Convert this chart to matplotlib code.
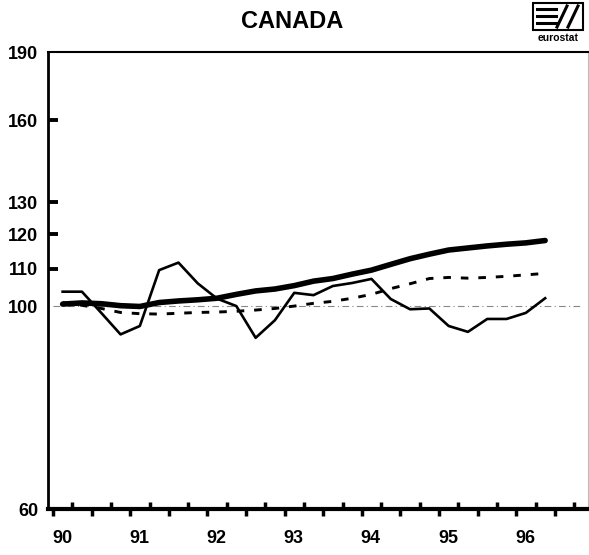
import numpy as np
import matplotlib.pyplot as plt
from matplotlib.patches import Rectangle
from matplotlib.transforms import ScaledTranslation

# ── Données (trimestrielles, indice 100) ─────────────────────────────────────
QUARTERS = np.arange(26)                 # 1990T1 .. 1996T2
YEAR0 = 1990

SERIES_THICK = [100.6, 100.9, 100.7, 100.2, 100.0, 101.0, 101.4, 101.7, 102.1,
                103.1, 104.0, 104.5, 105.4, 106.6, 107.3, 108.5, 109.6, 111.2,
                112.8, 114.1, 115.3, 115.9, 116.5, 117.0, 117.4, 118.1]
SERIES_DASHED = [101.0, 100.3, 99.5, 98.5, 98.2, 98.1, 98.3, 98.5, 98.6,
                 98.8, 99.1, 99.5, 100.1, 100.8, 101.3, 102.1, 103.1, 104.6,
                 105.9, 107.3, 107.6, 107.4, 107.6, 107.9, 108.3, 108.7]
SERIES_THIN = [103.8, 103.8, 98.4, 93.2, 95.2, 109.6, 111.7, 106.0, 102.0,
               100.1, 92.4, 96.6, 103.5, 102.9, 105.3, 106.1, 107.2, 101.9,
               99.3, 99.5, 95.2, 93.8, 96.9, 96.9, 98.4, 102.1]

Y_TICKS = [60, 100, 110, 120, 130, 160, 190]
YEAR_LABELS = ["90", "91", "92", "93", "94", "95", "96"]
BASE = 100

x = YEAR0 + (QUARTERS + 0.5) / 4.0

fig = plt.figure(figsize=(5.89, 5.55), dpi=100)
ax = fig.add_axes([48 / 589, 46 / 555, 540 / 589, 457 / 555])

ax.set_yscale("log")
ax.set_ylim(60, 190)
ax.set_xlim(YEAR0 - 5 / 77.2, YEAR0 + 535 / 77.2)

# ligne de base 100
ax.hlines(BASE, YEAR0, 1996.85, colors="#888888", linewidth=0.8,
          linestyles=(0, (6, 3, 1, 3)), zorder=1)

ax.plot(x, SERIES_THIN, color="black", linewidth=1.9, zorder=3)
ax.plot(x, SERIES_DASHED, color="black", linewidth=2.1,
        linestyle=(0, (2.6, 3.4)), zorder=3)
ax.plot(x, SERIES_THICK, color="black", linewidth=4.0,
        solid_capstyle="round", zorder=4)

# ── Axe Y ────────────────────────────────────────────────────────────────────
ax.yaxis.set_minor_locator(plt.NullLocator())
ax.set_yticks(Y_TICKS)
ax.set_yticklabels([str(v) for v in Y_TICKS], fontsize=13, fontweight="bold",
                   family="Liberation Sans")
ax.tick_params(axis="y", which="major", direction="in", length=7, width=2.8,
               pad=7)
for tick, v in zip(ax.yaxis.get_major_ticks(), Y_TICKS):
    if v in (60, 100, 190):
        tick.tick1line.set_visible(False)

# ── Axe X : ticks trimestriels alternés ─────────────────────────────────────
half_years = np.arange(YEAR0, 1997.0, 0.5)
quarter_odd = np.arange(YEAR0 + 0.25, 1997.0, 0.5)
ax.set_xticks(half_years)
ax.set_xticks(quarter_odd, minor=True)
labels = [YEAR_LABELS[int(h - YEAR0)] if float(h).is_integer() else ""
          for h in half_years]
ax.set_xticklabels(labels, fontsize=13, fontweight="bold",
                   family="Liberation Sans")
ax.tick_params(axis="x", which="major", direction="out", length=5, width=2.5,
               pad=10)
ax.tick_params(axis="x", which="minor", direction="in", length=5, width=2.5)
offset = ScaledTranslation(9 / 100, 0, fig.dpi_scale_trans)
for lbl in ax.get_xticklabels():
    lbl.set_transform(lbl.get_transform() + offset)

ax.spines["bottom"].set_linewidth(3)
ax.spines["left"].set_linewidth(2)
ax.spines["top"].set_linewidth(1.5)
ax.spines["right"].set_linewidth(0.8)
ax.spines["right"].set_color("#bbbbbb")

# ── Titre et logo ────────────────────────────────────────────────────────────
fig.text(292 / 589, 1 - 22 / 555, "CANADA", ha="center", va="center",
         fontsize=17, fontweight="bold", family="Liberation Sans")

W, H = 589, 555
def px(xp, yp):
    return xp / W, 1 - yp / H

box_x0, box_y0 = px(533, 30)
fig.patches.append(Rectangle((box_x0, box_y0), 50 / W, 27 / H,
                             transform=fig.transFigure, fill=False,
                             edgecolor="black", linewidth=1.5))
for yy in (9, 16, 23):
    fig.add_artist(plt.Line2D([px(537, 0)[0], px(556, 0)[0]],
                              [px(0, yy)[1], px(0, yy)[1]],
                              transform=fig.transFigure, color="black",
                              linewidth=2.2))
fig.add_artist(plt.Line2D([px(557, 0)[0], px(567, 0)[0]],
                          [px(0, 27)[1], px(0, 6)[1]],
                          transform=fig.transFigure, color="black", linewidth=2.2))
fig.add_artist(plt.Line2D([px(568, 0)[0], px(578, 0)[0]],
                          [px(0, 27)[1], px(0, 6)[1]],
                          transform=fig.transFigure, color="black", linewidth=2.2))
fig.text(558 / W, 1 - 38 / H, "eurostat", ha="center", va="center",
         fontsize=7.5, fontweight="bold", family="Liberation Sans")

fig.savefig("out.png", dpi=100)
